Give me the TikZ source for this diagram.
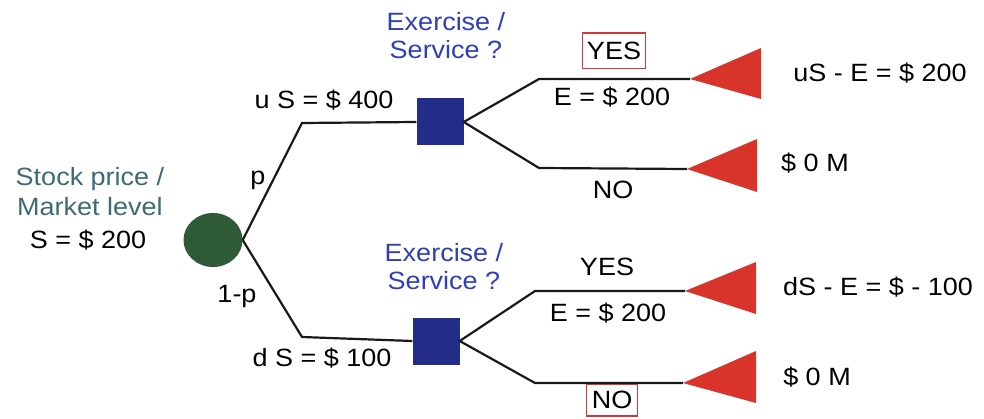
\documentclass[tikz,border=0pt]{standalone}
\usepackage{fontspec}
\setmainfont[FakeStretch=1.08]{Liberation Sans}
\definecolor{chance}{HTML}{2F5A38}
\definecolor{decision}{HTML}{232C87}
\definecolor{payoff}{HTML}{D9342B}
\definecolor{question}{HTML}{2F3FB5}
\definecolor{market}{HTML}{3D6B73}
\definecolor{mark}{HTML}{D03A3A}
\tikzset{
  lbl/.style={inner sep=0pt, font=\fontsize{25}{28}\selectfont, align=center},
  branch/.style={line width=2.2pt, line join=miter, black!90},
  chancenode/.style={ellipse, fill=chance, minimum width=59pt, minimum height=54pt, inner sep=0pt},
  decisionnode/.style={rectangle, fill=decision, minimum size=47pt, inner sep=0pt},
  endtri/.style={fill=payoff},
  boxed/.style={draw=mark, line width=1.3pt, inner xsep=4.5pt, inner ysep=9pt}
}
\usetikzlibrary{shapes.geometric}
\begin{document}
\begin{tikzpicture}[x=1pt, y=-1pt]
\useasboundingbox (0,0) rectangle (984,419);

% root chance node and its labels
\node[chancenode] (root) at (213,240) {};
\node[lbl, text=market] (mk1) at (90,179) {Stock price /};
\node[lbl, text=market] (mk2) at (90,207) {Market level};
\node[lbl] (s0) at (88,240) {S = \$ 200};

% decision nodes
\node[decisionnode] (up) at (440,122) {};
\node[decisionnode] (dn) at (436,341) {};

% corners of the chance branches
\coordinate (cu) at (302,123);
\coordinate (cd) at (302,337);
\draw[branch] (root.east) -- (cu) -- (up.west);
\draw[branch] (root.east) -- (cd) -- (dn.west);

\node[lbl] (pu) at (258,180) {p};
\node[lbl] (pd) at (237,296) {1-p};
\node[lbl] (us) at (324,100) {u S = \$ 400};
\node[lbl] (ds) at (322,358) {d S = \$ 100};

\node[lbl, text=question] (q1) at (446,36) {Exercise /\\Service ?};
\node[lbl, text=question] (q2) at (444,267) {Exercise /\\Service ?};

% upper decision: branches and end triangles
\coordinate (a1) at (539,79);  \coordinate (t1) at (690,79);
\coordinate (a2) at (539,168); \coordinate (t2) at (687,169);
\draw[branch] (up.east) -- (a1) -- (t1);
\draw[branch] (up.east) -- (a2) -- (t2);
\fill[endtri] (t1) -- (761,48) -- (761,99) -- cycle;
\fill[endtri] (t2) -- (757,139) -- (757,192) -- cycle;

\node[lbl, boxed] (yes1) at (614,51) {YES};
\node[lbl] (e1) at (612,97) {E = \$ 200};
\node[lbl] (no1) at (613,190) {NO};
\node[lbl] (r1) at (880,73) {uS - E = \$ 200};
\node[lbl] (r2) at (815,163) {\$ 0 M};

% lower decision: branches and end triangles
\coordinate (b1) at (535,291); \coordinate (t3) at (685,291);
\coordinate (b2) at (535,383); \coordinate (t4) at (683,383);
\draw[branch] (dn.east) -- (b1) -- (t3);
\draw[branch] (dn.east) -- (b2) -- (t4);
\fill[endtri] (t3) -- (756,262) -- (756,314) -- cycle;
\fill[endtri] (t4) -- (756,351) -- (756,403) -- cycle;

\node[lbl] (yes2) at (607,267) {YES};
\node[lbl] (e2) at (608,313) {E = \$ 200};
\node[lbl, boxed, inner ysep=7pt, inner xsep=5pt] (no2) at (612,400) {NO};
\node[lbl] (r3) at (878,287) {dS - E = \$ - 100};
\node[lbl] (r4) at (817,377) {\$ 0 M};
\end{tikzpicture}
\end{document}
